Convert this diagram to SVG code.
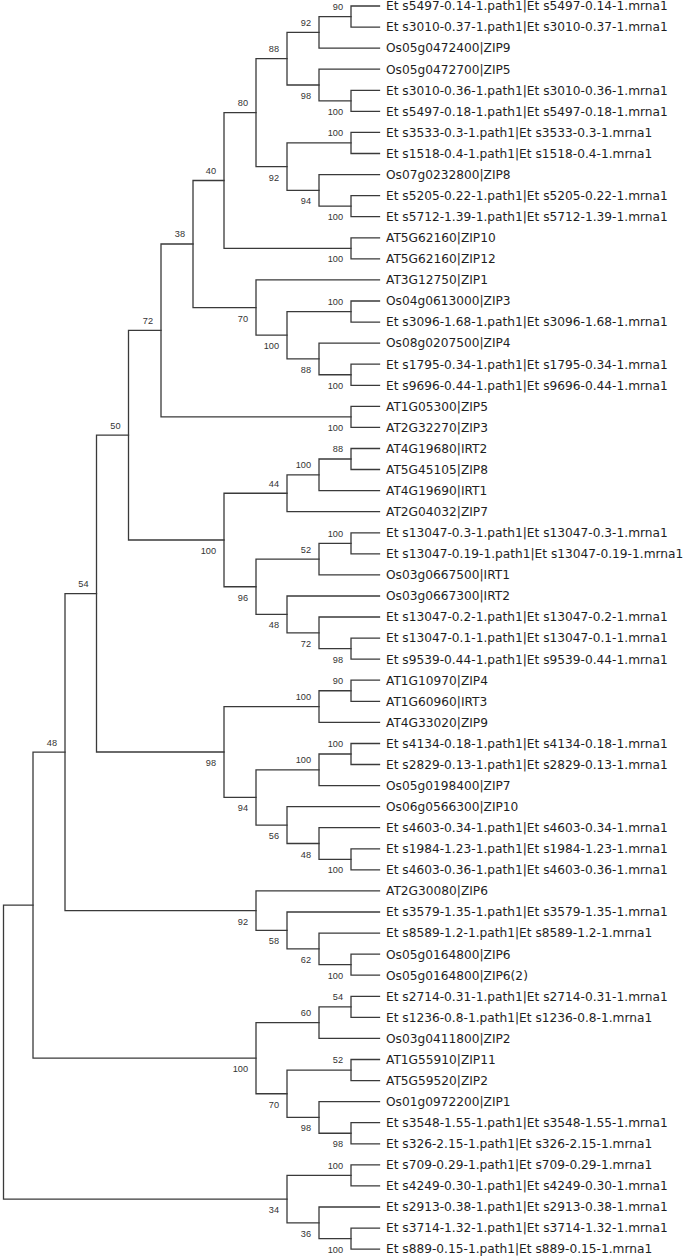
<svg xmlns="http://www.w3.org/2000/svg" width="685" height="1256" viewBox="0 0 685 1256">
<style>
.br{fill:none;stroke:#3a3a3a;stroke-width:1.3;stroke-linecap:square}
.lf{font-family:"DejaVu Sans",sans-serif;font-size:12.2px;fill:#1e1e1e}
.bs{font-family:"Liberation Sans",Arial,sans-serif;font-size:9.2px;fill:#333;text-anchor:end}
</style>
<rect width="685" height="1256" fill="#fff"/>
<g id="connectors" class="br">
<path d="M379.5,6H351V27.1H379.5"/>
<path d="M351,16.55H319V48.1H379.5"/>
<path d="M379.5,90.3H351V111.4H379.5"/>
<path d="M379.5,69.2H319V100.85H351"/>
<path d="M319,32.3H287V85H319"/>
<path d="M379.5,132.4H351V153.5H379.5"/>
<path d="M379.5,195.6H351V216.7H379.5"/>
<path d="M379.5,174.6H319V206.15H351"/>
<path d="M351,142.95H287V190.4H319"/>
<path d="M287,58.65H256V166.7H287"/>
<path d="M379.5,237.8H351V258.8H379.5"/>
<path d="M256,112.7H224V248.3H351"/>
<path d="M379.5,301H351V322.1H379.5"/>
<path d="M379.5,364.2H351V385.3H379.5"/>
<path d="M379.5,343.1H319V374.75H351"/>
<path d="M351,311.55H287V358.9H319"/>
<path d="M379.5,279.9H256V335.2H287"/>
<path d="M224,180.5H193V307.6H256"/>
<path d="M379.5,406.3H351V427.4H379.5"/>
<path d="M193,244H161V416.85H351"/>
<path d="M379.5,448.5H351V469.5H379.5"/>
<path d="M351,459H319V490.6H379.5"/>
<path d="M319,474.8H287V511.7H379.5"/>
<path d="M379.5,532.8H351V553.8H379.5"/>
<path d="M351,543.3H319V574.9H379.5"/>
<path d="M379.5,638.1H351V659.2H379.5"/>
<path d="M379.5,617H319V648.65H351"/>
<path d="M379.5,596H287V632.8H319"/>
<path d="M319,559.1H256V614.4H287"/>
<path d="M287,493.25H224V586.75H256"/>
<path d="M161,330.4H128.5V540H224"/>
<path d="M379.5,680.2H351V701.3H379.5"/>
<path d="M351,690.75H319V722.4H379.5"/>
<path d="M379.5,743.5H351V764.5H379.5"/>
<path d="M351,754H319V785.6H379.5"/>
<path d="M379.5,848.8H351V869.9H379.5"/>
<path d="M379.5,827.7H319V859.35H351"/>
<path d="M379.5,806.7H287V843.5H319"/>
<path d="M319,769.8H256V825.1H287"/>
<path d="M319,706.6H224V797.45H256"/>
<path d="M128.5,435.2H96.5V752H224"/>
<path d="M379.5,954.2H351V975.2H379.5"/>
<path d="M379.5,933.1H319V964.7H351"/>
<path d="M379.5,912H287V948.9H319"/>
<path d="M379.5,890.9H256V930.45H287"/>
<path d="M96.5,593.6H65V910.7H256"/>
<path d="M379.5,996.3H351V1017.4H379.5"/>
<path d="M351,1006.85H319V1038.4H379.5"/>
<path d="M379.5,1059.5H351V1080.6H379.5"/>
<path d="M379.5,1122.7H351V1143.8H379.5"/>
<path d="M379.5,1101.6H319V1133.25H351"/>
<path d="M351,1070.05H287V1117.4H319"/>
<path d="M319,1022.6H256V1093.75H287"/>
<path d="M65,752.15H33V1058.2H256"/>
<path d="M379.5,1164.9H351V1185.9H379.5"/>
<path d="M379.5,1228.1H351V1249.1H379.5"/>
<path d="M379.5,1207H319V1238.6H351"/>
<path d="M351,1175.4H287V1222.8H319"/>
<path d="M33,905.2H3.5V1199.1H287"/>
</g>
<g id="leaf-1"><text class="lf" x="386" y="10.3">Et s5497-0.14-1.path1|Et s5497-0.14-1.mrna1</text></g>
<g id="leaf-2"><text class="lf" x="386" y="31.4">Et s3010-0.37-1.path1|Et s3010-0.37-1.mrna1</text></g>
<g id="leaf-3"><text class="lf" x="386" y="52.4">Os05g0472400|ZIP9</text></g>
<g id="leaf-4"><text class="lf" x="386" y="73.5">Os05g0472700|ZIP5</text></g>
<g id="leaf-5"><text class="lf" x="386" y="94.6">Et s3010-0.36-1.path1|Et s3010-0.36-1.mrna1</text></g>
<g id="leaf-6"><text class="lf" x="386" y="115.7">Et s5497-0.18-1.path1|Et s5497-0.18-1.mrna1</text></g>
<g id="leaf-7"><text class="lf" x="386" y="136.7">Et s3533-0.3-1.path1|Et s3533-0.3-1.mrna1</text></g>
<g id="leaf-8"><text class="lf" x="386" y="157.8">Et s1518-0.4-1.path1|Et s1518-0.4-1.mrna1</text></g>
<g id="leaf-9"><text class="lf" x="386" y="178.9">Os07g0232800|ZIP8</text></g>
<g id="leaf-10"><text class="lf" x="386" y="199.9">Et s5205-0.22-1.path1|Et s5205-0.22-1.mrna1</text></g>
<g id="leaf-11"><text class="lf" x="386" y="221.0">Et s5712-1.39-1.path1|Et s5712-1.39-1.mrna1</text></g>
<g id="leaf-12"><text class="lf" x="386" y="242.1">AT5G62160|ZIP10</text></g>
<g id="leaf-13"><text class="lf" x="386" y="263.1">AT5G62160|ZIP12</text></g>
<g id="leaf-14"><text class="lf" x="386" y="284.2">AT3G12750|ZIP1</text></g>
<g id="leaf-15"><text class="lf" x="386" y="305.3">Os04g0613000|ZIP3</text></g>
<g id="leaf-16"><text class="lf" x="386" y="326.4">Et s3096-1.68-1.path1|Et s3096-1.68-1.mrna1</text></g>
<g id="leaf-17"><text class="lf" x="386" y="347.4">Os08g0207500|ZIP4</text></g>
<g id="leaf-18"><text class="lf" x="386" y="368.5">Et s1795-0.34-1.path1|Et s1795-0.34-1.mrna1</text></g>
<g id="leaf-19"><text class="lf" x="386" y="389.6">Et s9696-0.44-1.path1|Et s9696-0.44-1.mrna1</text></g>
<g id="leaf-20"><text class="lf" x="386" y="410.6">AT1G05300|ZIP5</text></g>
<g id="leaf-21"><text class="lf" x="386" y="431.7">AT2G32270|ZIP3</text></g>
<g id="leaf-22"><text class="lf" x="386" y="452.8">AT4G19680|IRT2</text></g>
<g id="leaf-23"><text class="lf" x="386" y="473.8">AT5G45105|ZIP8</text></g>
<g id="leaf-24"><text class="lf" x="386" y="494.9">AT4G19690|IRT1</text></g>
<g id="leaf-25"><text class="lf" x="386" y="516.0">AT2G04032|ZIP7</text></g>
<g id="leaf-26"><text class="lf" x="386" y="537.1">Et s13047-0.3-1.path1|Et s13047-0.3-1.mrna1</text></g>
<g id="leaf-27"><text class="lf" x="386" y="558.1">Et s13047-0.19-1.path1|Et s13047-0.19-1.mrna1</text></g>
<g id="leaf-28"><text class="lf" x="386" y="579.2">Os03g0667500|IRT1</text></g>
<g id="leaf-29"><text class="lf" x="386" y="600.3">Os03g0667300|IRT2</text></g>
<g id="leaf-30"><text class="lf" x="386" y="621.3">Et s13047-0.2-1.path1|Et s13047-0.2-1.mrna1</text></g>
<g id="leaf-31"><text class="lf" x="386" y="642.4">Et s13047-0.1-1.path1|Et s13047-0.1-1.mrna1</text></g>
<g id="leaf-32"><text class="lf" x="386" y="663.5">Et s9539-0.44-1.path1|Et s9539-0.44-1.mrna1</text></g>
<g id="leaf-33"><text class="lf" x="386" y="684.5">AT1G10970|ZIP4</text></g>
<g id="leaf-34"><text class="lf" x="386" y="705.6">AT1G60960|IRT3</text></g>
<g id="leaf-35"><text class="lf" x="386" y="726.7">AT4G33020|ZIP9</text></g>
<g id="leaf-36"><text class="lf" x="386" y="747.8">Et s4134-0.18-1.path1|Et s4134-0.18-1.mrna1</text></g>
<g id="leaf-37"><text class="lf" x="386" y="768.8">Et s2829-0.13-1.path1|Et s2829-0.13-1.mrna1</text></g>
<g id="leaf-38"><text class="lf" x="386" y="789.9">Os05g0198400|ZIP7</text></g>
<g id="leaf-39"><text class="lf" x="386" y="811.0">Os06g0566300|ZIP10</text></g>
<g id="leaf-40"><text class="lf" x="386" y="832.0">Et s4603-0.34-1.path1|Et s4603-0.34-1.mrna1</text></g>
<g id="leaf-41"><text class="lf" x="386" y="853.1">Et s1984-1.23-1.path1|Et s1984-1.23-1.mrna1</text></g>
<g id="leaf-42"><text class="lf" x="386" y="874.2">Et s4603-0.36-1.path1|Et s4603-0.36-1.mrna1</text></g>
<g id="leaf-43"><text class="lf" x="386" y="895.2">AT2G30080|ZIP6</text></g>
<g id="leaf-44"><text class="lf" x="386" y="916.3">Et s3579-1.35-1.path1|Et s3579-1.35-1.mrna1</text></g>
<g id="leaf-45"><text class="lf" x="386" y="937.4">Et s8589-1.2-1.path1|Et s8589-1.2-1.mrna1</text></g>
<g id="leaf-46"><text class="lf" x="386" y="958.5">Os05g0164800|ZIP6</text></g>
<g id="leaf-47"><text class="lf" x="386" y="979.5">Os05g0164800|ZIP6(2)</text></g>
<g id="leaf-48"><text class="lf" x="386" y="1000.6">Et s2714-0.31-1.path1|Et s2714-0.31-1.mrna1</text></g>
<g id="leaf-49"><text class="lf" x="386" y="1021.7">Et s1236-0.8-1.path1|Et s1236-0.8-1.mrna1</text></g>
<g id="leaf-50"><text class="lf" x="386" y="1042.7">Os03g0411800|ZIP2</text></g>
<g id="leaf-51"><text class="lf" x="386" y="1063.8">AT1G55910|ZIP11</text></g>
<g id="leaf-52"><text class="lf" x="386" y="1084.9">AT5G59520|ZIP2</text></g>
<g id="leaf-53"><text class="lf" x="386" y="1105.9">Os01g0972200|ZIP1</text></g>
<g id="leaf-54"><text class="lf" x="386" y="1127.0">Et s3548-1.55-1.path1|Et s3548-1.55-1.mrna1</text></g>
<g id="leaf-55"><text class="lf" x="386" y="1148.1">Et s326-2.15-1.path1|Et s326-2.15-1.mrna1</text></g>
<g id="leaf-56"><text class="lf" x="386" y="1169.2">Et s709-0.29-1.path1|Et s709-0.29-1.mrna1</text></g>
<g id="leaf-57"><text class="lf" x="386" y="1190.2">Et s4249-0.30-1.path1|Et s4249-0.30-1.mrna1</text></g>
<g id="leaf-58"><text class="lf" x="386" y="1211.3">Et s2913-0.38-1.path1|Et s2913-0.38-1.mrna1</text></g>
<g id="leaf-59"><text class="lf" x="386" y="1232.4">Et s3714-1.32-1.path1|Et s3714-1.32-1.mrna1</text></g>
<g id="leaf-60"><text class="lf" x="386" y="1253.4">Et s889-0.15-1.path1|Et s889-0.15-1.mrna1</text></g>
<g id="node-labels" class="bs">
<g id="n90"><text x="343" y="10">90</text></g>
<g id="n92a"><text x="311" y="25.7">92</text></g>
<g id="n88"><text x="279" y="52.05">88</text></g>
<g id="n98"><text x="311" y="99">98</text></g>
<g id="n100a"><text x="343" y="114.85">100</text></g>
<g id="n80"><text x="248" y="106.1">80</text></g>
<g id="n100b"><text x="343" y="136.35">100</text></g>
<g id="n92b"><text x="279" y="180.7">92</text></g>
<g id="n94"><text x="311" y="204.4">94</text></g>
<g id="n100c"><text x="343" y="220.15">100</text></g>
<g id="n40"><text x="216" y="173.9">40</text></g>
<g id="n100d"><text x="343" y="262.3">100</text></g>
<g id="n38"><text x="185" y="237.4">38</text></g>
<g id="n70"><text x="248" y="321.6">70</text></g>
<g id="n100e"><text x="343" y="304.95">100</text></g>
<g id="n100f"><text x="279" y="349.2">100</text></g>
<g id="n88b"><text x="311" y="372.9">88</text></g>
<g id="n100g"><text x="343" y="388.75">100</text></g>
<g id="n72"><text x="153" y="323.8">72</text></g>
<g id="n100h"><text x="343" y="430.85">100</text></g>
<g id="n50"><text x="120.5" y="428.6">50</text></g>
<g id="n88c"><text x="343" y="452.4">88</text></g>
<g id="n100i"><text x="311" y="468.2">100</text></g>
<g id="n44"><text x="279" y="486.65">44</text></g>
<g id="nIRT"><text x="216" y="554">100</text></g>
<g id="n100j"><text x="343" y="536.7">100</text></g>
<g id="n52"><text x="311" y="552.5">52</text></g>
<g id="n96"><text x="248" y="600.75">96</text></g>
<g id="n48a"><text x="279" y="628.4">48</text></g>
<g id="n72b"><text x="311" y="646.8">72</text></g>
<g id="n98a"><text x="343" y="662.65">98</text></g>
<g id="n54"><text x="88.5" y="587">54</text></g>
<g id="n90b"><text x="343" y="684.15">90</text></g>
<g id="n100k"><text x="311" y="700">100</text></g>
<g id="n98big"><text x="216" y="766">98</text></g>
<g id="n48"><text x="57" y="745.55">48</text></g>
<g id="n100l"><text x="343" y="747.4">100</text></g>
<g id="n100m"><text x="311" y="763.2">100</text></g>
<g id="n94b"><text x="248" y="811.45">94</text></g>
<g id="n56"><text x="279" y="839.1">56</text></g>
<g id="n48b"><text x="311" y="857.5">48</text></g>
<g id="n100n"><text x="343" y="873.35">100</text></g>
<g id="n92c"><text x="248" y="924.7">92</text></g>
<g id="n58"><text x="279" y="944.45">58</text></g>
<g id="n62"><text x="311" y="962.9">62</text></g>
<g id="n100o"><text x="343" y="978.7">100</text></g>
<g id="n54b"><text x="343" y="1000.25">54</text></g>
<g id="n60"><text x="311" y="1016">60</text></g>
<g id="nZIP2"><text x="248" y="1072.2">100</text></g>
<g id="n52b"><text x="343" y="1063.45">52</text></g>
<g id="n70c"><text x="279" y="1107.75">70</text></g>
<g id="n98b"><text x="311" y="1131.4">98</text></g>
<g id="n98c"><text x="343" y="1147.25">98</text></g>
<g id="n100p"><text x="343" y="1168.8">100</text></g>
<g id="n34"><text x="279" y="1213.1">34</text></g>
<g id="n36"><text x="311" y="1236.8">36</text></g>
<g id="n100q"><text x="343" y="1252.6">100</text></g>
</g>
</svg>
